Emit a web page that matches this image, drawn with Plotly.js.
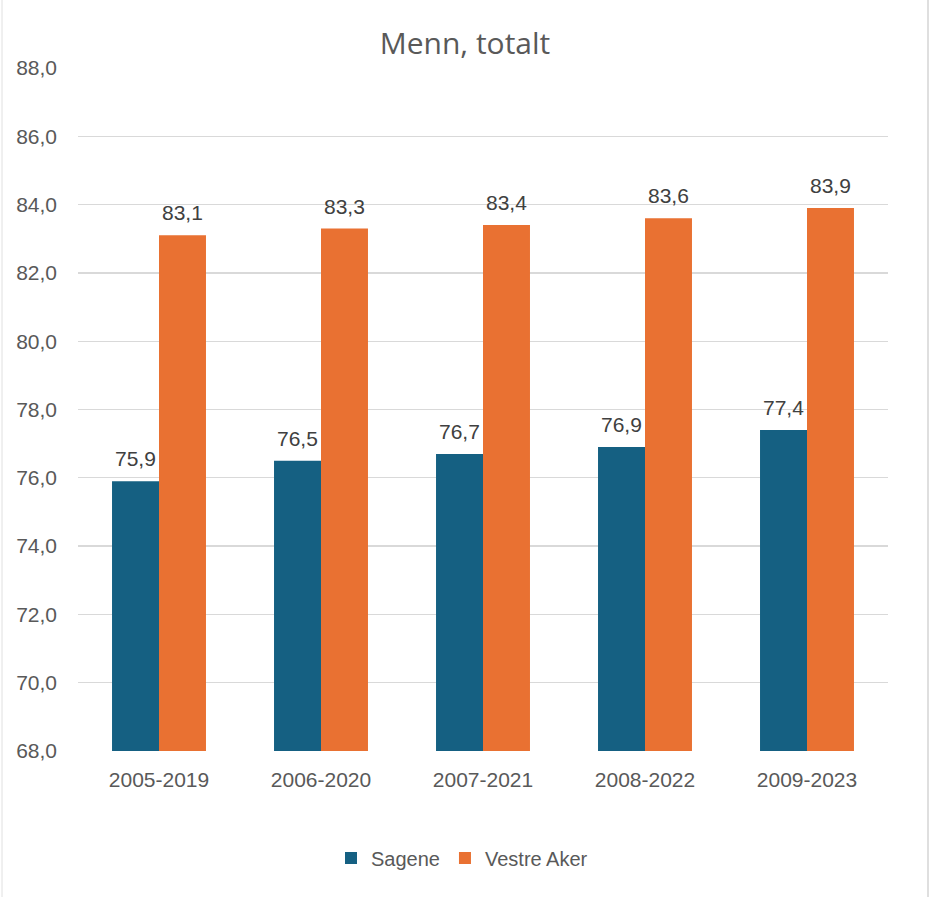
<!DOCTYPE html>
<html>
<head>
<meta charset="utf-8">
<script src="https://cdn.plot.ly/plotly-3.0.1.min.js"></script>
<style>html,body{margin:0;padding:0;background:#fff;}#chart{width:938px;height:897px;}</style>
</head>
<body>
<div id="chart"></div>
<script>
var categories = ['2005-2019', '2006-2020', '2007-2021', '2008-2022', '2009-2023'];
var sagene = [75.9, 76.5, 76.7, 76.9, 77.4];
var vestreAker = [83.1, 83.3, 83.4, 83.6, 83.9];
var seriesNames = ['Sagene', 'Vestre Aker'];
var yTicks = [68, 70, 72, 74, 76, 78, 80, 82, 84, 86, 88];

var colors = ['#156082', '#E97132'];
var tickFont = {family: 'Liberation Sans, Arial, sans-serif', size: 21, color: '#595959'};
var labelFont = {family: 'Liberation Sans, Arial, sans-serif', size: 21, color: '#404040'};

var traces = [
  {type: 'bar', name: seriesNames[0], x: categories, y: sagene, marker: {color: colors[0]}, hoverinfo: 'skip'},
  {type: 'bar', name: seriesNames[1], x: categories, y: vestreAker, marker: {color: colors[1]}, hoverinfo: 'skip'}
];

var plotL = 78, plotR = 888, W = 938;
var barPx = 47;
var annotations = [];
[sagene, vestreAker].forEach(function (arr, si) {
  arr.forEach(function (v, i) {
    annotations.push({
      x: categories[i], y: v, xref: 'x', yref: 'y',
      text: v.toFixed(1).replace('.', ','),
      showarrow: false, yanchor: 'bottom', xanchor: 'center',
      xshift: (si === 0 ? -1 : 1) * barPx / 2, yshift: 9,
      font: labelFont
    });
  });
});

var px2paper = function (px) { return (px - plotL) / (plotR - plotL); };
var shapes = [
  {type: 'line', xref: 'paper', yref: 'paper', x0: px2paper(928), x1: px2paper(928), y0: -0.25, y1: 1.12,
   line: {color: '#d4d4d4', width: 1.5}},
  {type: 'line', xref: 'paper', yref: 'paper', x0: px2paper(2), x1: px2paper(2), y0: -0.25, y1: 1.12,
   line: {color: '#e0e0e0', width: 1}}
];

var layout = {
  width: 938, height: 897,
  margin: {l: plotL, r: W - plotR, t: 68, b: 146},
  paper_bgcolor: '#ffffff', plot_bgcolor: '#ffffff',
  separators: ', ',
  title: {
    text: 'Menn, totalt', x: 465 / 938, xref: 'container', xanchor: 'center',
    y: 1 - 43 / 897, yref: 'container', yanchor: 'middle',
    font: {family: 'Open Sans, sans-serif', size: 30, color: '#595959'}
  },
  barmode: 'group', bargap: 0.42, bargroupgap: 0,
  xaxis: {
    type: 'category', showgrid: false, showline: false, ticks: '',
    tickfont: tickFont, ticklabelstandoff: 14, fixedrange: true
  },
  yaxis: {
    range: [68, 88], tickvals: yTicks, tickformat: '.1f',
    showgrid: true, gridcolor: '#d9d9d9', gridwidth: 1.3, zeroline: false, showline: false,
    ticks: '', tickfont: tickFont, ticklabelstandoff: 20, fixedrange: true
  },
  showlegend: true,
  legend: {
    orientation: 'h', xref: 'container', yref: 'container',
    x: 462 / 938, xanchor: 'center', y: 1 - 858 / 897, yanchor: 'middle',
    font: {family: 'Liberation Sans, Arial, sans-serif', size: 20, color: '#595959'},
    itemwidth: 30, traceorder: 'normal'
  },
  annotations: annotations,
  shapes: shapes
};

Plotly.newPlot('chart', traces, layout, {displayModeBar: false, staticPlot: true});
</script>
</body>
</html>
